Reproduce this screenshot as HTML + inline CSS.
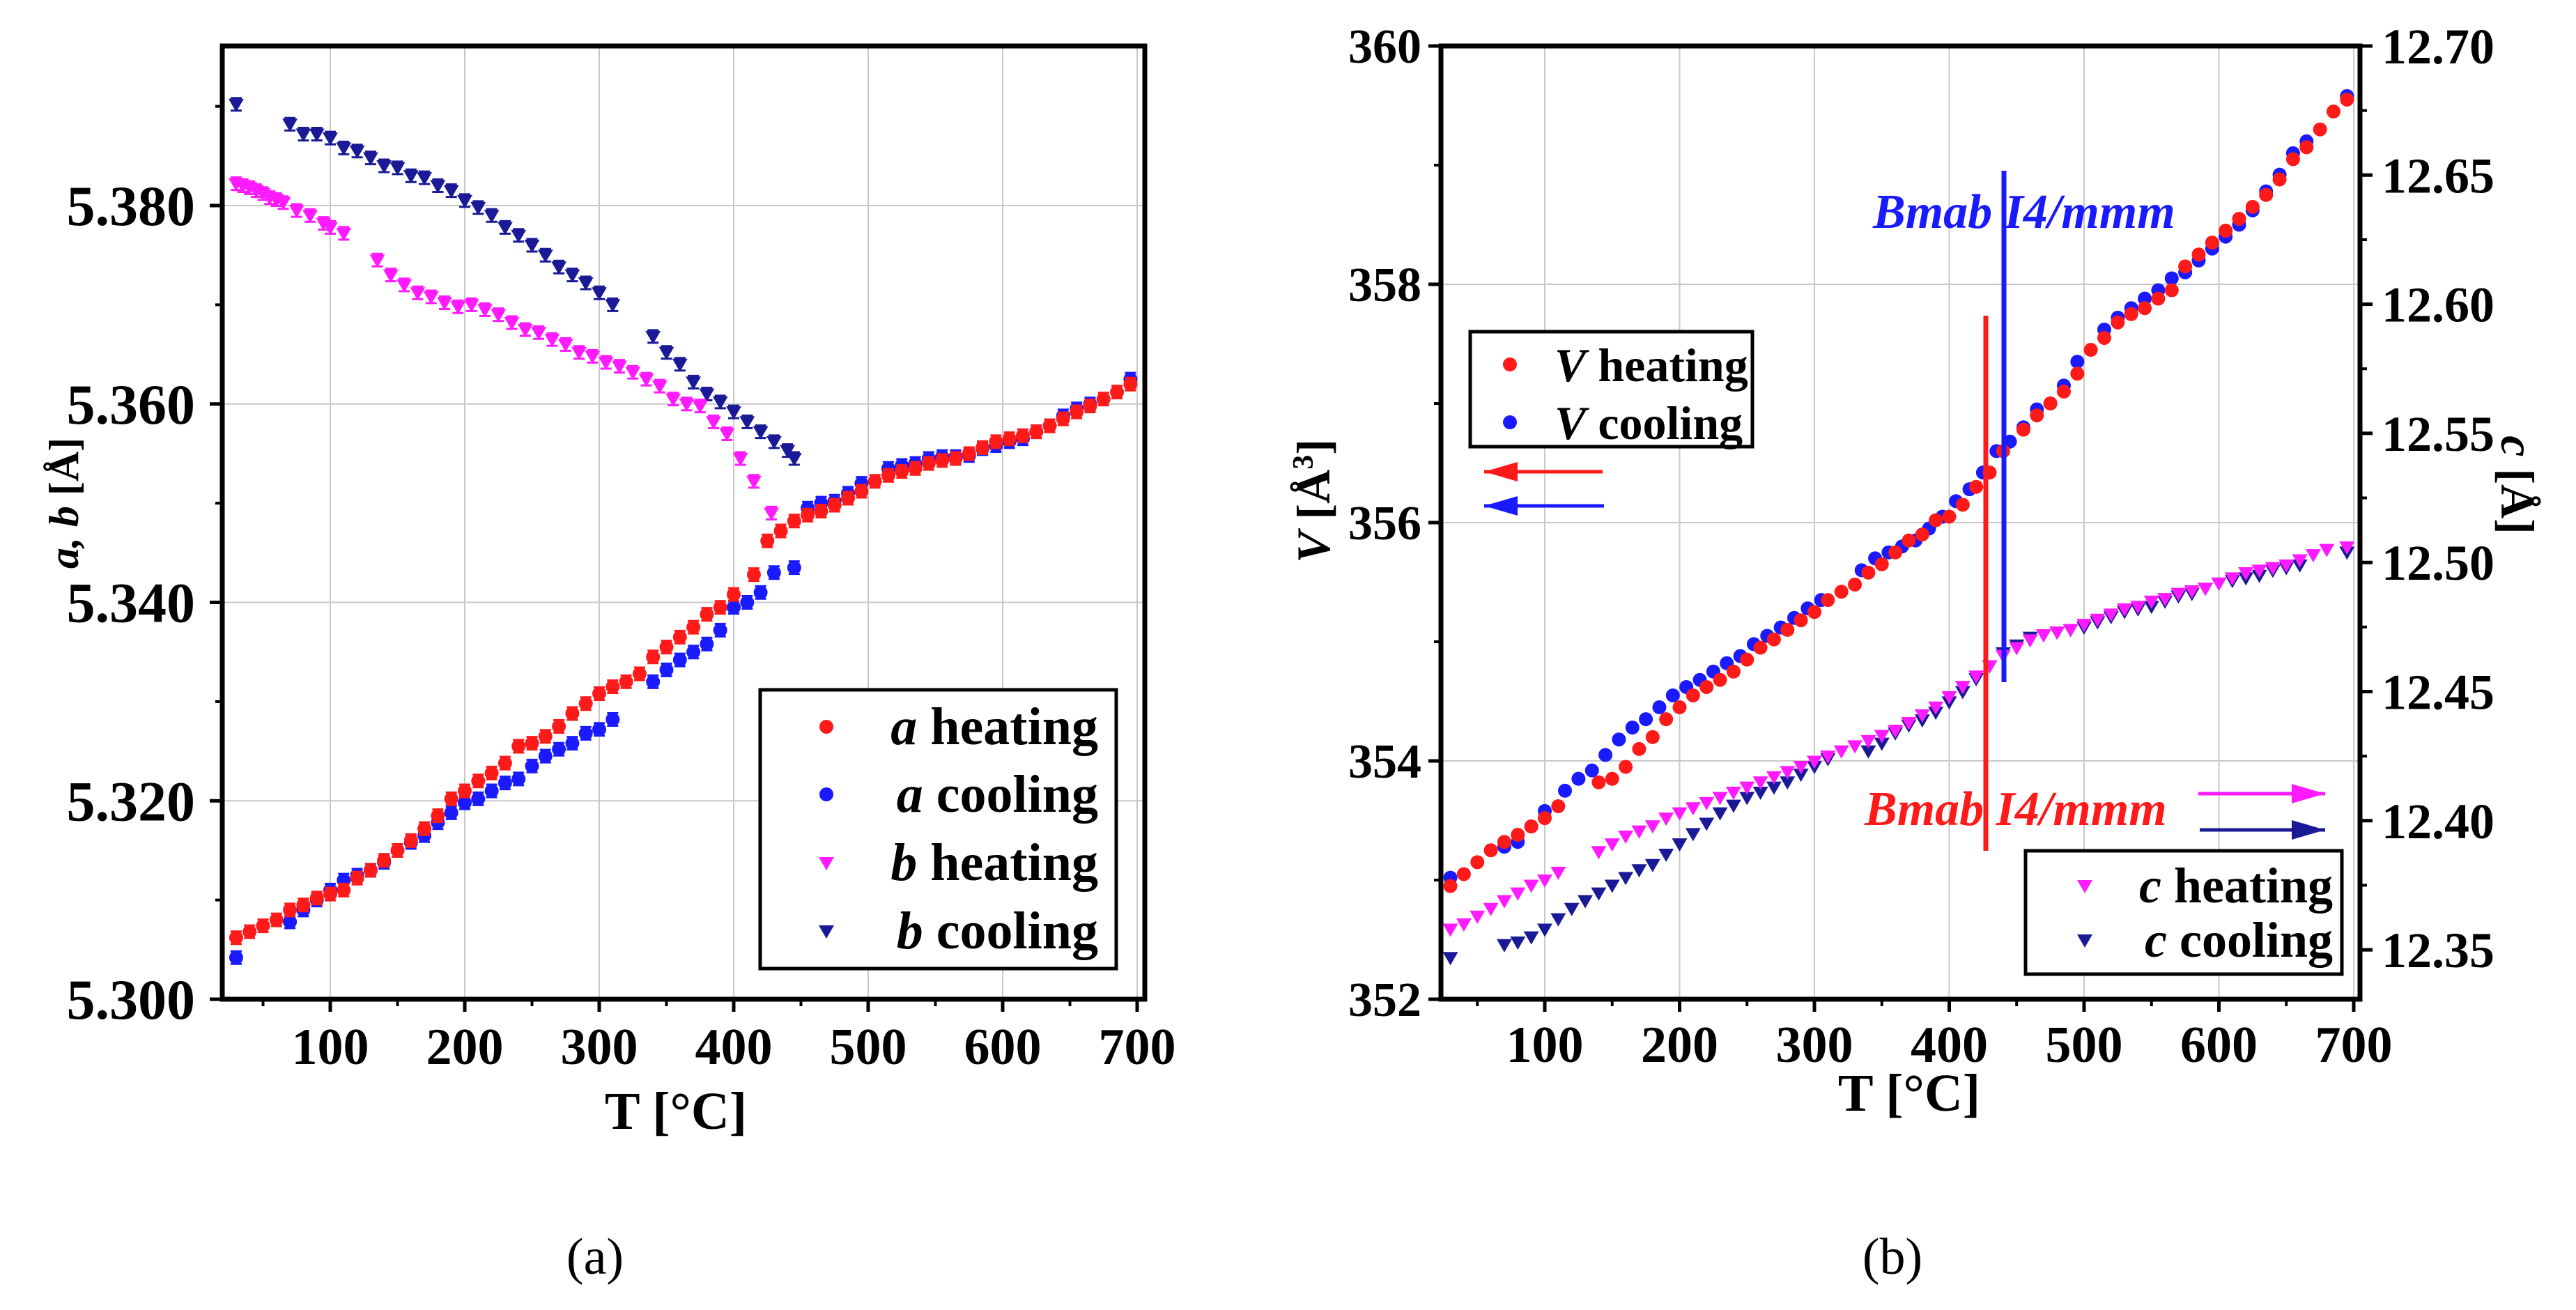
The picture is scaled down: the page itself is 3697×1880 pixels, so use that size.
<!DOCTYPE html>
<html><head><meta charset="utf-8"><style>
html,body{margin:0;padding:0;background:#fff}
svg text{font-family:"Liberation Serif",serif;font-weight:bold}
</style></head><body>
<svg id="fig" width="3697" height="1875" viewBox="0 0 3697 1875" xmlns="http://www.w3.org/2000/svg">
<g id="pa"></g>
<g id="pb"></g>
<text x="854" y="1828" font-size="74" text-anchor="middle" style="font-weight:normal">(a)</text>
<text x="2716" y="1828" font-size="74" text-anchor="middle" style="font-weight:normal">(b)</text>
</svg>
<script>
// ---------- Panel (a) data ----------
const aHeatT=[30,40,50,60,70,80,90,100,110,120,130,140,150,160,170,180,190,200,210,220,230,240,250,260,270,280,290,300,310,320,330,340,350,360,370,380,390,400,415,425,435,445,455,465,475,485,495,505,515,525,535,545,555,565,575,585,595,605,615,625,635,645,655,665,675,685,695];
const aHeatV=[5.3062,5.3068,5.3074,5.3080,5.3090,5.3095,5.3102,5.3106,5.3110,5.3122,5.3130,5.3140,5.3150,5.3160,5.3172,5.3185,5.3202,5.3210,5.3220,5.3228,5.3238,5.3255,5.3258,5.3265,5.3275,5.3288,5.3298,5.3308,5.3315,5.3320,5.3328,5.3345,5.3355,5.3365,5.3375,5.3388,5.3395,5.3408,5.3428,5.3462,5.3472,5.3482,5.3488,5.3492,5.3498,5.3505,5.3512,5.3522,5.3528,5.3532,5.3535,5.3540,5.3543,5.3545,5.3550,5.3556,5.3562,5.3565,5.3568,5.3572,5.3578,5.3585,5.3592,5.3598,5.3605,5.3612,5.3620];
const aCoolT=[30,70,80,90,100,110,120,130,140,150,160,170,180,190,200,210,220,230,240,250,260,270,280,290,300,310,340,350,360,370,380,390,400,410,420,430,445,455,465,475,485,495,515,525,535,545,555,565,575,585,595,605,615,625,635,645,655,665,695];
const aCoolV=[5.3042,5.3078,5.3090,5.3100,5.3110,5.3120,5.3125,5.3130,5.3138,5.3150,5.3158,5.3165,5.3178,5.3188,5.3198,5.3202,5.3210,5.3218,5.3222,5.3235,5.3245,5.3252,5.3258,5.3268,5.3272,5.3282,5.3320,5.3332,5.3342,5.3350,5.3358,5.3372,5.3395,5.3400,5.3410,5.3430,5.3435,5.3495,5.3500,5.3502,5.3510,5.3520,5.3535,5.3538,5.3540,5.3545,5.3547,5.3547,5.3548,5.3555,5.3558,5.3562,5.3565,5.3572,5.3578,5.3588,5.3595,5.3600,5.3625];
const bHeatT=[30,35,40,45,50,55,60,65,75,85,95,100,110,135,145,155,165,175,185,195,205,215,225,235,245,255,265,275,285,295,305,315,325,335,345,355,365,375,385,395,405,415,428];
const bHeatV=[5.3822,5.3820,5.3818,5.3815,5.3812,5.3808,5.3806,5.3803,5.3795,5.3790,5.3782,5.3778,5.3772,5.3745,5.3730,5.3720,5.3712,5.3708,5.3702,5.3698,5.3700,5.3695,5.3690,5.3682,5.3675,5.3672,5.3665,5.3660,5.3652,5.3648,5.3642,5.3638,5.3632,5.3625,5.3618,5.3605,5.3600,5.3598,5.3582,5.3570,5.3545,5.3522,5.3490];
const bCoolT=[30,70,80,90,100,110,120,130,140,150,160,170,180,190,200,210,220,230,240,250,260,270,280,290,300,310,340,350,360,370,380,390,400,410,420,430,440,445];
const bCoolV=[5.3902,5.3882,5.3872,5.3872,5.3868,5.3858,5.3855,5.3848,5.3840,5.3838,5.3830,5.3828,5.3820,5.3815,5.3805,5.3798,5.3790,5.3778,5.3770,5.3760,5.3750,5.3738,5.3730,5.3722,5.3712,5.3700,5.3668,5.3652,5.3640,5.3622,5.3610,5.3602,5.3592,5.3582,5.3572,5.3562,5.3553,5.3545];
const aXTicks=[100,200,300,400,500,600,700];
const aYTicks=[5.300,5.320,5.340,5.360,5.380];
// ---------- Panel (b) data ----------
const vHeatT=[30,40,50,60,70,80,90,100,110,140,150,160,170,180,190,200,210,220,230,240,250,260,270,280,290,300,310,320,330,340,350,360,370,380,390,400,410,420,430,440,455,465,475,485,495,505,515,525,535,545,555,565,575,585,595,605,615,625,635,645,655,665,675,685,695];
const vHeatV=[352.95,353.05,353.15,353.25,353.32,353.38,353.45,353.52,353.62,353.82,353.85,353.95,354.10,354.20,354.35,354.45,354.55,354.62,354.68,354.75,354.85,354.95,355.02,355.10,355.18,355.25,355.35,355.42,355.48,355.58,355.65,355.75,355.85,355.90,356.02,356.05,356.15,356.30,356.42,356.60,356.78,356.90,357.00,357.10,357.25,357.45,357.55,357.68,357.75,357.80,357.88,357.95,358.15,358.25,358.35,358.45,358.55,358.65,358.75,358.88,359.05,359.15,359.30,359.45,359.55];
const vCoolT=[30,70,80,90,100,115,125,135,145,155,165,175,185,195,205,215,225,235,245,255,265,275,285,295,305,335,345,355,365,375,385,395,405,415,425,435,445,455,465,475,485,495,515,525,535,545,555,565,575,585,595,605,615,625,635,645,655,665,695];
const vCoolV=[353.02,353.28,353.32,353.45,353.58,353.75,353.85,353.92,354.05,354.18,354.28,354.35,354.45,354.55,354.62,354.68,354.75,354.82,354.88,354.98,355.05,355.12,355.20,355.28,355.35,355.60,355.70,355.75,355.80,355.85,355.95,356.05,356.18,356.28,356.42,356.60,356.68,356.80,356.95,357.00,357.15,357.35,357.62,357.72,357.80,357.88,357.95,358.05,358.10,358.20,358.30,358.40,358.50,358.62,358.78,358.92,359.10,359.20,359.58];
const cHeatT=[30,40,50,60,70,80,90,100,110,140,150,160,170,180,190,200,210,220,230,240,250,260,270,280,290,300,310,320,330,340,350,360,370,380,390,400,410,420,430,440,450,460,470,480,490,500,510,520,530,540,550,560,570,580,590,600,610,620,630,640,650,660,670,680,695];
const cHeatV=[12.358,12.360,12.363,12.366,12.369,12.372,12.375,12.377,12.380,12.388,12.391,12.394,12.396,12.398,12.401,12.403,12.405,12.407,12.409,12.411,12.413,12.415,12.417,12.419,12.421,12.423,12.425,12.427,12.429,12.431,12.433,12.435,12.438,12.441,12.444,12.448,12.452,12.456,12.460,12.464,12.467,12.470,12.472,12.473,12.474,12.476,12.478,12.480,12.482,12.483,12.485,12.486,12.488,12.489,12.490,12.492,12.494,12.496,12.497,12.498,12.499,12.501,12.503,12.505,12.506];
const cCoolT=[30,70,80,90,100,110,120,130,140,150,160,170,180,190,200,210,220,230,240,250,260,270,280,290,300,310,340,350,360,370,380,390,400,410,420,430,440,450,460,470,480,490,500,510,520,530,540,550,560,570,580,590,600,610,620,630,640,650,660,695];
const cCoolV=[12.347,12.352,12.353,12.355,12.358,12.362,12.366,12.369,12.372,12.375,12.378,12.381,12.383,12.387,12.391,12.395,12.399,12.403,12.406,12.409,12.411,12.413,12.415,12.418,12.421,12.424,12.427,12.430,12.434,12.437,12.439,12.442,12.446,12.450,12.455,12.460,12.465,12.468,12.471,12.472,12.473,12.474,12.475,12.477,12.479,12.481,12.482,12.483,12.485,12.487,12.488,12.490,12.492,12.493,12.494,12.495,12.497,12.498,12.499,12.504];
const bXTicks=[100,200,300,400,500,600,700];
const vTicks=[352,354,356,358,360];
const cTicks=[12.35,12.40,12.45,12.50,12.55,12.60,12.65,12.70];

const NS="http://www.w3.org/2000/svg";
function mk(parent,tag,attrs,txt){const e=document.createElementNS(NS,tag);for(const k in attrs)e.setAttribute(k,attrs[k]);if(txt!==undefined)e.textContent=txt;parent.appendChild(e);return e;}

// axis functions
const xa=T=>474+(T-100)*1.93;
const ya=v=>1434-(v-5.300)/0.02*284.75;
const xb=T=>2217+(T-100)*1.935;
const yV=v=>1434-(v-352)*171;
const yC=c=>66+(12.70-c)/0.05*185.3;

function marker(g,type,x,y,color){
  let e;
  if(type==='c'){e=mk(g,'circle',{cx:x,cy:y,r:10,fill:color});}
  else{e=mk(g,'polygon',{points:`${x-11},${y-8} ${x+11},${y-8} ${x},${y+11}`,fill:color});}
  return e;
}
function series(g,T,V,fx,fy,type,color,name,err){
  const sg=mk(g,'g',{});
  
  
  for(let i=0;i<T.length;i++){
    const x=fx(T[i]),y=fy(V[i]);
    if(err){mk(sg,'path',{d:`M${x},${y-err}V${y+err}M${x-8},${y-err}h16M${x-8},${y+err}h16`,stroke:color,'stroke-width':3,fill:'none'});}
    const m=marker(sg,type,x,y,color);
    
    
  }
}

// ---------- Panel (a) ----------
const pa=document.getElementById('pa');
const L=319,R=1643,Tp=66,B=1434;
for(const t of aXTicks){mk(pa,'line',{x1:xa(t),x2:xa(t),y1:Tp,y2:B,stroke:'#c8c8c8','stroke-width':2});}
for(const v of aYTicks){mk(pa,'line',{x1:L,x2:R,y1:ya(v),y2:ya(v),stroke:'#c8c8c8','stroke-width':2});}
series(pa,bCoolT,bCoolV,xa,ya,'t','#1a1a96','b-cooling-series',9);
series(pa,bHeatT,bHeatV,xa,ya,'t','#ff1aff','b-heating-series',9);
series(pa,aCoolT,aCoolV,xa,ya,'c','#1a1aff','a-cooling-series',9);
series(pa,aHeatT,aHeatV,xa,ya,'c','#ff1a1a','a-heating-series',9);
mk(pa,'rect',{x:L,y:Tp,width:R-L,height:B-Tp,fill:'none',stroke:'#000','stroke-width':7});
for(const t of aXTicks){mk(pa,'line',{x1:xa(t),x2:xa(t),y1:B,y2:B+18,stroke:'#000','stroke-width':5});
  const e=mk(pa,'text',{x:xa(t),y:1527,'font-size':74,'text-anchor':'middle'},String(t));}
for(let t=50;t<=700;t+=100){mk(pa,'line',{x1:xa(t),x2:xa(t),y1:B,y2:B+10,stroke:'#000','stroke-width':4});}
for(const v of aYTicks){mk(pa,'line',{x1:L-18,x2:L,y1:ya(v),y2:ya(v),stroke:'#000','stroke-width':5});
  const e=mk(pa,'text',{x:280,y:ya(v)+28,'font-size':82,'text-anchor':'end'},v.toFixed(3));}
for(let v=5.31;v<5.395;v+=0.02){mk(pa,'line',{x1:L-10,x2:L,y1:ya(v),y2:ya(v),stroke:'#000','stroke-width':4});}
mk(pa,'text',{x:970,y:1620,'font-size':76,'text-anchor':'middle',},'T [°C]');
const yt=mk(pa,'text',{transform:'translate(112,722) rotate(-90)','font-size':60,'text-anchor':'middle',});
yt.innerHTML='<tspan font-style="italic">a, b</tspan> [Å]';
// legend a
const lga=mk(pa,'g',{});
mk(lga,'rect',{x:1091,y:990,width:511,height:400,fill:'#fff',stroke:'#000','stroke-width':5});
[['a','heating','c','#ff1a1a',1043],['a','cooling','c','#1a1aff',1140],['b','heating','t','#ff1aff',1238],['b','cooling','t','#1a1a96',1336]].forEach(d=>{
  const eg=mk(lga,'g',{});
  marker(eg,d[2],1186,d[4],d[3]);
  const t=mk(eg,'text',{x:1576,y:d[4]+25,'font-size':76,'text-anchor':'end'});t.innerHTML=`<tspan font-style="italic">${d[0]}</tspan> ${d[1]}`;
});

// ---------- Panel (b) ----------
const pb=document.getElementById('pb');
const L2=2068,R2=3387,T2=66,B2=1434;
for(const t of bXTicks){mk(pb,'line',{x1:xb(t),x2:xb(t),y1:T2,y2:B2,stroke:'#c8c8c8','stroke-width':2});}
for(const v of vTicks){mk(pb,'line',{x1:L2,x2:R2,y1:yV(v),y2:yV(v),stroke:'#c8c8c8','stroke-width':2});}
series(pb,cCoolT,cCoolV,xb,yC,'t','#1a1a96','c-cooling-series',0);
series(pb,cHeatT,cHeatV,xb,yC,'t','#ff1aff','c-heating-series',0);
series(pb,vCoolT,vCoolV,xb,yV,'c','#1a1aff','v-cooling-series',0);
series(pb,vHeatT,vHeatV,xb,yV,'c','#ff1a1a','v-heating-series',0);
mk(pb,'line',{x1:2850,x2:2850,y1:453,y2:1221,stroke:'#ff1a1a','stroke-width':7,});
mk(pb,'line',{x1:2876,x2:2876,y1:245,y2:979,stroke:'#1a1aff','stroke-width':7,});
mk(pb,'text',{x:2688,y:327,'font-size':70,fill:'#1a1aff','font-style':'italic',},'Bmab  I4/mmm');
mk(pb,'text',{x:2676,y:1184,'font-size':70,fill:'#ff1a1a','font-style':'italic',},'Bmab  I4/mmm');
mk(pb,'rect',{x:L2,y:T2,width:R2-L2,height:B2-T2,fill:'none',stroke:'#000','stroke-width':7});
for(const t of bXTicks){mk(pb,'line',{x1:xb(t),x2:xb(t),y1:B2,y2:B2+18,stroke:'#000','stroke-width':5});
  const e=mk(pb,'text',{x:xb(t),y:1524,'font-size':74,'text-anchor':'middle'},String(t));}
for(let t=50;t<=700;t+=100){mk(pb,'line',{x1:xb(t),x2:xb(t),y1:B2,y2:B2+10,stroke:'#000','stroke-width':4});}
for(const v of vTicks){mk(pb,'line',{x1:L2-18,x2:L2,y1:yV(v),y2:yV(v),stroke:'#000','stroke-width':5});
  const e=mk(pb,'text',{x:2040,y:yV(v)+24,'font-size':70,'text-anchor':'end'},String(v));}
for(let v=353;v<360;v+=2){mk(pb,'line',{x1:L2-10,x2:L2,y1:yV(v),y2:yV(v),stroke:'#000','stroke-width':4});}
for(const c of cTicks){mk(pb,'line',{x1:R2,x2:R2+18,y1:yC(c),y2:yC(c),stroke:'#000','stroke-width':5});
  const e=mk(pb,'text',{x:3418,y:yC(c)+25,'font-size':72},c.toFixed(2));}
for(let c=12.375;c<12.70;c+=0.05){mk(pb,'line',{x1:R2,x2:R2+10,y1:yC(c),y2:yC(c),stroke:'#000','stroke-width':4});}
mk(pb,'text',{x:2740,y:1594,'font-size':76,'text-anchor':'middle',},'T [°C]');
const vt=mk(pb,'text',{transform:'translate(1908,719) rotate(-90)','font-size':68,'text-anchor':'middle',});
vt.innerHTML='<tspan font-style="italic">V</tspan> [Å<tspan font-size="42" dy="-24">3</tspan><tspan dy="24">]</tspan>';
const ct=mk(pb,'text',{transform:'translate(3590,696) rotate(90)','font-size':68,'text-anchor':'middle',});
ct.innerHTML='<tspan font-style="italic">c</tspan> [Å]';
// V legend
const lgv=mk(pb,'g',{});
mk(lgv,'rect',{x:2110,y:476,width:405,height:165,fill:'#fff',stroke:'#000','stroke-width':5});
[['V','  heating','#ff1a1a',523],['V',' cooling','#1a1aff',606]].forEach(d=>{
  const eg=mk(lgv,'g',{});
  marker(eg,'c',2167,d[3],d[2]);
  const t=mk(eg,'text',{x:2231,y:d[3]+24,'font-size':68,'xml:space':'preserve'});t.innerHTML=`<tspan font-style="italic">${d[0]}</tspan>${d[1]}`;
});
// c legend
const lgc=mk(pb,'g',{});
mk(lgc,'rect',{x:2907,y:1221,width:454,height:177,fill:'#fff',stroke:'#000','stroke-width':5});
[['c','heating','#ff1aff',1271],['c','cooling','#1a1a96',1349]].forEach(d=>{
  const eg=mk(lgc,'g',{});
  marker(eg,'t',2992,d[3],d[2]);
  const t=mk(eg,'text',{x:3348,y:d[3]+24,'font-size':72,'text-anchor':'end'});t.innerHTML=`<tspan font-style="italic">${d[0]}</tspan> ${d[1]}`;
});
// axis arrows
function arrow(x1,x2,y,color,name){
  const g=mk(pb,'g',{});
  mk(g,'line',{x1:x1,x2:x2,y1:y,y2:y,stroke:color,'stroke-width':5});
  const tip=x2, dir=x2>x1?-1:1;
  mk(g,'polygon',{points:`${tip},${y} ${tip+dir*48},${y-14} ${tip+dir*48},${y+14}`,fill:color});
}
arrow(2300,2130,677,'#ff1a1a','left-axis-arrow-heating');
arrow(2302,2130,726,'#1a1aff','left-axis-arrow-cooling');
arrow(3155,3337,1139,'#ff1aff','right-axis-arrow-heating');
arrow(3157,3337,1191,'#1a1a96','right-axis-arrow-cooling');
</script>
</body></html>
